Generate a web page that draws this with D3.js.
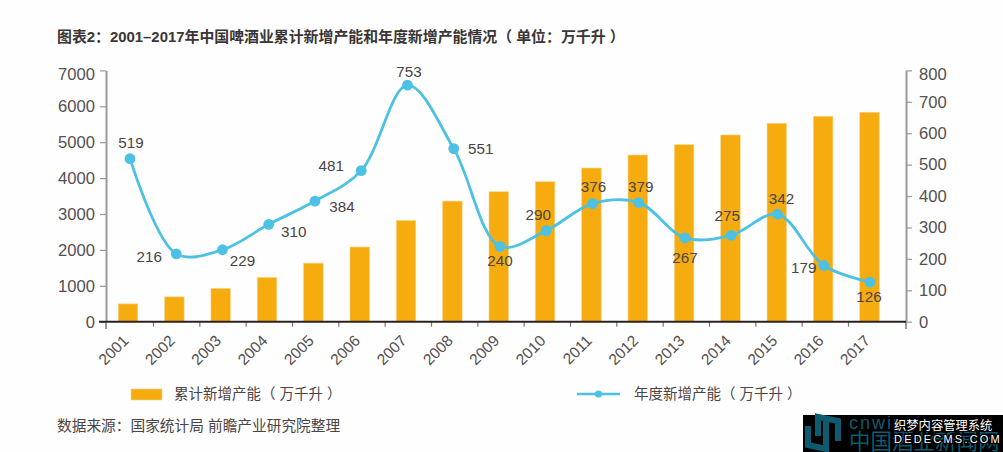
<!DOCTYPE html>
<html>
<head>
<meta charset="utf-8">
<script src="https://cdn.jsdelivr.net/npm/d3@7/dist/d3.min.js"></script>
<style>
  html, body { margin: 0; padding: 0; background: #fff; }
  svg { display: block; }
  text { font-family: "Liberation Sans", "Noto Sans CJK SC", sans-serif; fill: #4a4544; }
</style>
</head>
<body>
<svg id="chart" width="1003" height="452"></svg>
<script>
const years = ["2001","2002","2003","2004","2005","2006","2007","2008","2009","2010","2011","2012","2013","2014","2015","2016","2017"];
const cumulative = [496,692,926,1233,1631,2080,2820,3360,3620,3899,4281,4643,4930,5201,5527,5722,5834];
const annual = [519,216,229,310,384,481,753,551,240,290,376,379,267,275,342,179,126];
const leftTicks = [0,1000,2000,3000,4000,5000,6000,7000];
const rightTicks = [0,100,200,300,400,500,600,700,800];
// where each value label sits relative to its point
const labelDx = [1,-27,20,25,27,-30,1.5,27,0,-8,1,2,0,-4,4,-20,-1];
const labelDy = [-11,8,16,13,11,0.5,-8,5,20,-11,-12,-11,25,-14,-10,8,20];

const titleText = "图表2：2001–2017年中国啤酒业累计新增产能和年度新增产能情况（ 单位：万千升 ）";
const barLegend = "累计新增产能（ 万千升 ）";
const lineLegend = "年度新增产能（ 万千升 ）";
const sourceText = "数据来源：国家统计局 前瞻产业研究院整理";

const svg = d3.select("#chart");
const plotLeft = 106, plotRight = 906, plotTop = 70.4, plotBase = 321.7;
const barColor = "#f6ab0f", lineColor = "#4dc1e3", axisColor = "#9a9a9a";

const xBar = d3.scalePoint().domain(years).range([128, 869.5]);
const xLine = d3.scalePoint().domain(years).range([130, 870]);
const yLeft = d3.scaleLinear().domain([0, 7000]).range([plotBase, plotTop]);
const yRight = d3.scaleLinear().domain([0, 800]).range([plotBase, plotTop]);
// ticks fall between the bars, with none after 2016
const xTicks = d3.scaleLinear().domain([1, 16]).range([153, 848]);

svg.append("rect").attr("width", 1003).attr("height", 452).attr("fill", "#fefefe");

svg.append("text").attr("x", 57).attr("y", 42)
  .attr("font-size", 14.9).attr("font-weight", "bold").style("fill", "#3a3635")
  .text(titleText);

// bars
svg.append("g").selectAll("rect")
  .data(cumulative)
  .enter()
  .append("rect")
  .attr("x", (d, i) => xBar(years[i]) - 9.75)
  .attr("width", 19.5)
  .attr("y", d => yLeft(d))
  .attr("height", d => plotBase - yLeft(d))
  .attr("fill", barColor)
  .attr("stroke", "#fbd48a")
  .attr("stroke-width", 0.6);

// axes
function styleAxis(g, size) {
  g.selectAll("path.domain").attr("stroke", axisColor).attr("stroke-width", 2);
  g.selectAll(".tick line").attr("stroke", axisColor).attr("stroke-width", 1.2);
  g.selectAll(".tick text")
    .attr("font-size", size)
    .attr("font-family", "Liberation Sans")
    .style("fill", "#555050");
}

const leftAxis = svg.append("g")
  .attr("transform", `translate(${plotLeft},0)`)
  .call(d3.axisLeft(yLeft).tickValues(leftTicks).tickFormat(d3.format("d")).tickSize(6).tickSizeOuter(0).tickPadding(5));
styleAxis(leftAxis, 16.6);

const rightAxis = svg.append("g")
  .attr("transform", `translate(${plotRight},0)`)
  .call(d3.axisRight(yRight).tickValues(rightTicks).tickFormat(d3.format("d")).tickSize(6).tickSizeOuter(0).tickPadding(7));
styleAxis(rightAxis, 16.6);

// the top labels sit a little under their ticks
leftAxis.selectAll(".tick text").filter(d => d === 7000).attr("dy", "0.55em");
rightAxis.selectAll(".tick text").filter(d => d === 800).attr("dy", "0.55em");

// both vertical axes run on below the baseline
[plotLeft, plotRight].forEach(x => {
  svg.append("line").attr("x1", x).attr("x2", x).attr("y1", plotBase).attr("y2", 329)
    .attr("stroke", axisColor).attr("stroke-width", 2);
});

const bottomAxis = svg.append("g")
  .attr("transform", `translate(0,${plotBase})`)
  .call(d3.axisBottom(xTicks).tickValues(d3.range(1, 17)).tickFormat("").tickSize(5).tickSizeOuter(0));
bottomAxis.select("path.domain").remove();
bottomAxis.selectAll(".tick line").attr("stroke", "#777").attr("stroke-width", 1.2);

svg.append("line").attr("x1", 99).attr("x2", plotRight).attr("y1", plotBase).attr("y2", plotBase)
  .attr("stroke", "#2a2220").attr("stroke-width", 2);

svg.append("g").selectAll("text")
  .data(years)
  .enter()
  .append("text")
  .attr("text-anchor", "end")
  .attr("font-size", 15.5)
  .style("fill", "#555050")
  .attr("transform", d => `translate(${xBar(d) + 1.5},${plotBase + 20}) rotate(-45)`)
  .text(d => d);

// line
const line = d3.line()
  .x((d, i) => xLine(years[i]))
  .y(d => yRight(d))
  .curve(d3.curveCatmullRom.alpha(0.5));

svg.append("path")
  .datum(annual)
  .attr("fill", "none")
  .attr("stroke", lineColor)
  .attr("stroke-width", 2.8)
  .attr("d", line);

svg.append("g").selectAll("circle")
  .data(annual)
  .enter()
  .append("circle")
  .attr("cx", (d, i) => xLine(years[i]))
  .attr("cy", d => yRight(d))
  .attr("r", 5.4)
  .attr("fill", lineColor);

svg.append("g").selectAll("text")
  .data(annual)
  .enter()
  .append("text")
  .attr("x", (d, i) => xLine(years[i]) + labelDx[i])
  .attr("y", (d, i) => yRight(d) + labelDy[i])
  .attr("text-anchor", "middle")
  .attr("font-size", 15.2)
  .text(d => d);

// legend
svg.append("rect").attr("x", 131).attr("y", 389).attr("width", 31).attr("height", 11)
  .attr("fill", barColor).attr("stroke", "#fbd48a").attr("stroke-width", 0.6);
svg.append("text").attr("x", 174).attr("y", 399).attr("font-size", 14.5).text(barLegend);

svg.append("line").attr("x1", 577).attr("x2", 620).attr("y1", 394).attr("y2", 394)
  .attr("stroke", lineColor).attr("stroke-width", 2.4);
svg.append("circle").attr("cx", 598.5).attr("cy", 394).attr("r", 3.6).attr("fill", lineColor);
svg.append("text").attr("x", 634).attr("y", 399).attr("font-size", 14.5).text(lineLegend);

svg.append("text").attr("x", 57).attr("y", 431).attr("font-size", 14.7).text(sourceText);

// site stamp, bottom right
const stamp = svg.append("g");
stamp.append("rect").attr("x", 803).attr("y", 415).attr("width", 200).attr("height", 37).attr("fill", "#000");
stamp.append("path").attr("d", "M808 426 V445 L826 449 V420").attr("fill", "none")
  .attr("stroke", "#0e5a6e").attr("stroke-width", 6);
stamp.append("path").attr("d", "M818 436 V417 L838 421 V441").attr("fill", "none")
  .attr("stroke", "#0e5a6e").attr("stroke-width", 6);
stamp.append("text").attr("x", 849).attr("y", 429).attr("font-size", 18)
  .attr("letter-spacing", 2).style("fill", "#0e5a6e").text("cnwin");
stamp.append("text").attr("x", 849).attr("y", 449).attr("font-size", 21.5)
  .style("fill", "#0e5a6e").text("中国酒业新闻网");
stamp.append("text").attr("x", 894).attr("y", 430).attr("font-size", 12.3)
  .style("fill", "#fff").style("stroke", "#000").style("stroke-width", 2.5).style("paint-order", "stroke")
  .text("织梦内容管理系统");
stamp.append("text").attr("x", 894).attr("y", 443).attr("font-size", 11)
  .attr("letter-spacing", 2.2).attr("font-family", "DejaVu Sans Mono")
  .style("fill", "#fff").style("stroke", "#000").style("stroke-width", 2.5).style("paint-order", "stroke")
  .text("DEDECMS.COM");
</script>
</body>
</html>
